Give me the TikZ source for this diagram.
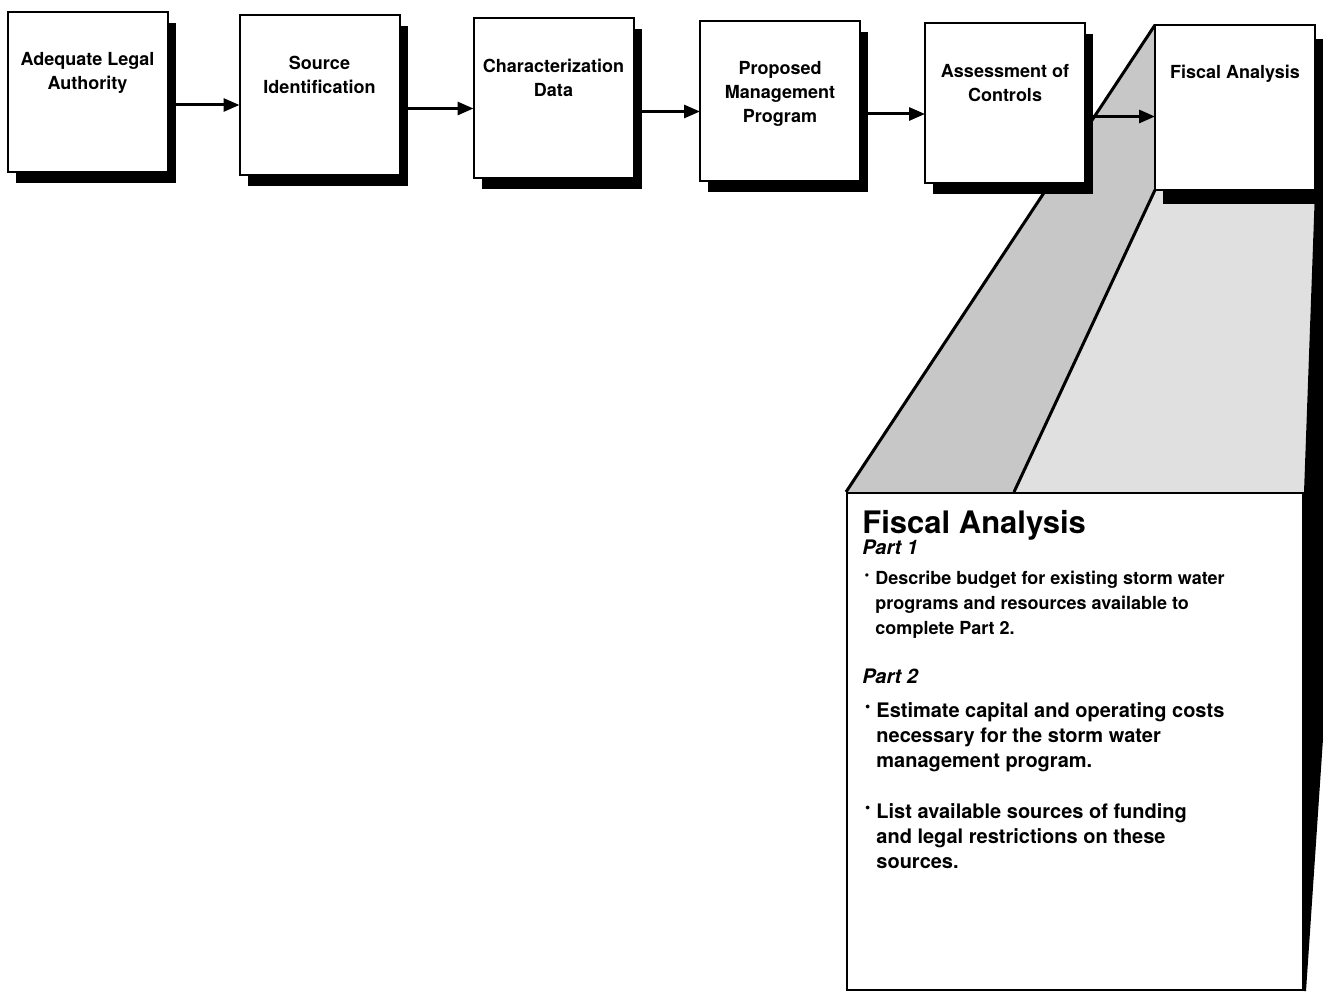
\documentclass[tikz,border=0pt]{standalone}
\usepackage{fontspec}
\setmainfont{TeX Gyre Heros}
\usetikzlibrary{arrows.meta,shadows,backgrounds}

\newcommand{\bul}{\llap{\raisebox{0.5ex}{\scalebox{0.75}{\textbullet}}\hspace{3pt}}}

\tikzset{
  stage/.style={draw, fill=white, line width=1pt, minimum width=80pt,
    minimum height=80pt, inner sep=0pt, outer sep=0pt,
    drop shadow={shadow xshift=4pt, shadow yshift=#1, opacity=1, fill=black}},
  stage/.default=-5.5pt,
  caption/.style={anchor=north, align=center, inner sep=0pt,
    font=\fontsize{9}{12}\selectfont\bfseries},
  flow/.style={line width=1.5pt, -{Triangle[length=8pt,width=6.5pt]}},
  ray/.style={line width=1.5pt},
  head/.style={anchor=base west, inner sep=0pt,
    font=\fontsize{15.5}{18}\selectfont\bfseries},
  part/.style={anchor=base west, inner sep=0pt,
    font=\fontsize{10}{12}\selectfont\bfseries\itshape},
  note/.style={anchor=north west, inner sep=0pt, align=left,
    font=\fontsize{#1}{12.5}\selectfont\bfseries},
  note/.default=9,
}

\begin{document}
\begin{tikzpicture}[x=0.5pt,y=-0.5pt]
  \useasboundingbox (0,0) rectangle (1323,994);

  \node[stage] (legal) at (87.5,92) {};
  \node[stage] (source) at (319.5,95.5) {};
  \node[stage] (charac) at (553.5,98.5) {};
  \node[stage] (program) at (780,101) {};
  \node[stage] (assess) at (1005,103.5) {};
  \node[stage=-7pt, minimum height=82.5pt] (fiscal) at (1235,107.5) {};

  \node[caption] (legal-t) at ([yshift=-20pt]legal.north) {Adequate Legal\\Authority};
  \node[caption] (source-t) at ([yshift=-20pt]source.north) {Source\\Identification};
  \node[caption] (charac-t) at ([yshift=-20pt]charac.north) {Characterization\\Data};
  \node[caption] (program-t) at ([yshift=-20pt]program.north) {Proposed\\Management\\Program};
  \node[caption] (assess-t) at ([yshift=-20pt]assess.north) {Assessment of\\Controls};
  \node[caption] (fiscal-t) at ([yshift=-20pt]fiscal.north) {Fiscal Analysis};

  \foreach \a/\b in {legal/source, source/charac, charac/program, program/assess, assess/fiscal} {
    \path ([yshift=-6.5pt]\a.east) coordinate (s);
    \draw[flow] (s) -- (s -| \b.west);
  }

  % enlarged view of the last step
  \node[draw, fill=white, line width=1pt, minimum width=228pt,
    minimum height=248.5pt, inner sep=0pt] (detail) at (1075,741.5) {};
  \coordinate (split) at ([xshift=84pt]detail.north west);

  \node[head] (title) at (862,533) {Fiscal Analysis};
  \node[part] (part1) at (862,554) {Part 1};
  \node[note] (budget) at (875,571) {\bul Describe budget for existing storm water\\
    programs and resources available to\\complete Part 2.};
  \node[part] (part2) at (862,683) {Part 2};
  \node[note=10] (costs) at (876,702) {\bul Estimate capital and operating costs\\
    necessary for the storm water\\management program.};
  \node[note=10] (funds) at (876,803) {\bul List available sources of funding\\
    and legal restrictions on these\\sources.};

  \begin{pgfonlayer}{background}
    \clip (0,0) rectangle (1323,994);
    \fill[black!22] (fiscal.north west) -- (detail.north west) -- (split)
      -- (fiscal.south west) -- cycle;
    \fill[black!12] (fiscal.south west) -- (split) -- (detail.north east)
      -- (fiscal.south east) -- cycle;
    \fill (fiscal.south east) -- ++(45,0) -- ([xshift=1pt]detail.south east)
      -- (detail.south east) -- (detail.north east) -- cycle;
    \draw[ray] (fiscal.north west) -- (detail.north west);
    \draw[ray] (fiscal.south west) -- (split);
  \end{pgfonlayer}
\end{tikzpicture}
\end{document}
